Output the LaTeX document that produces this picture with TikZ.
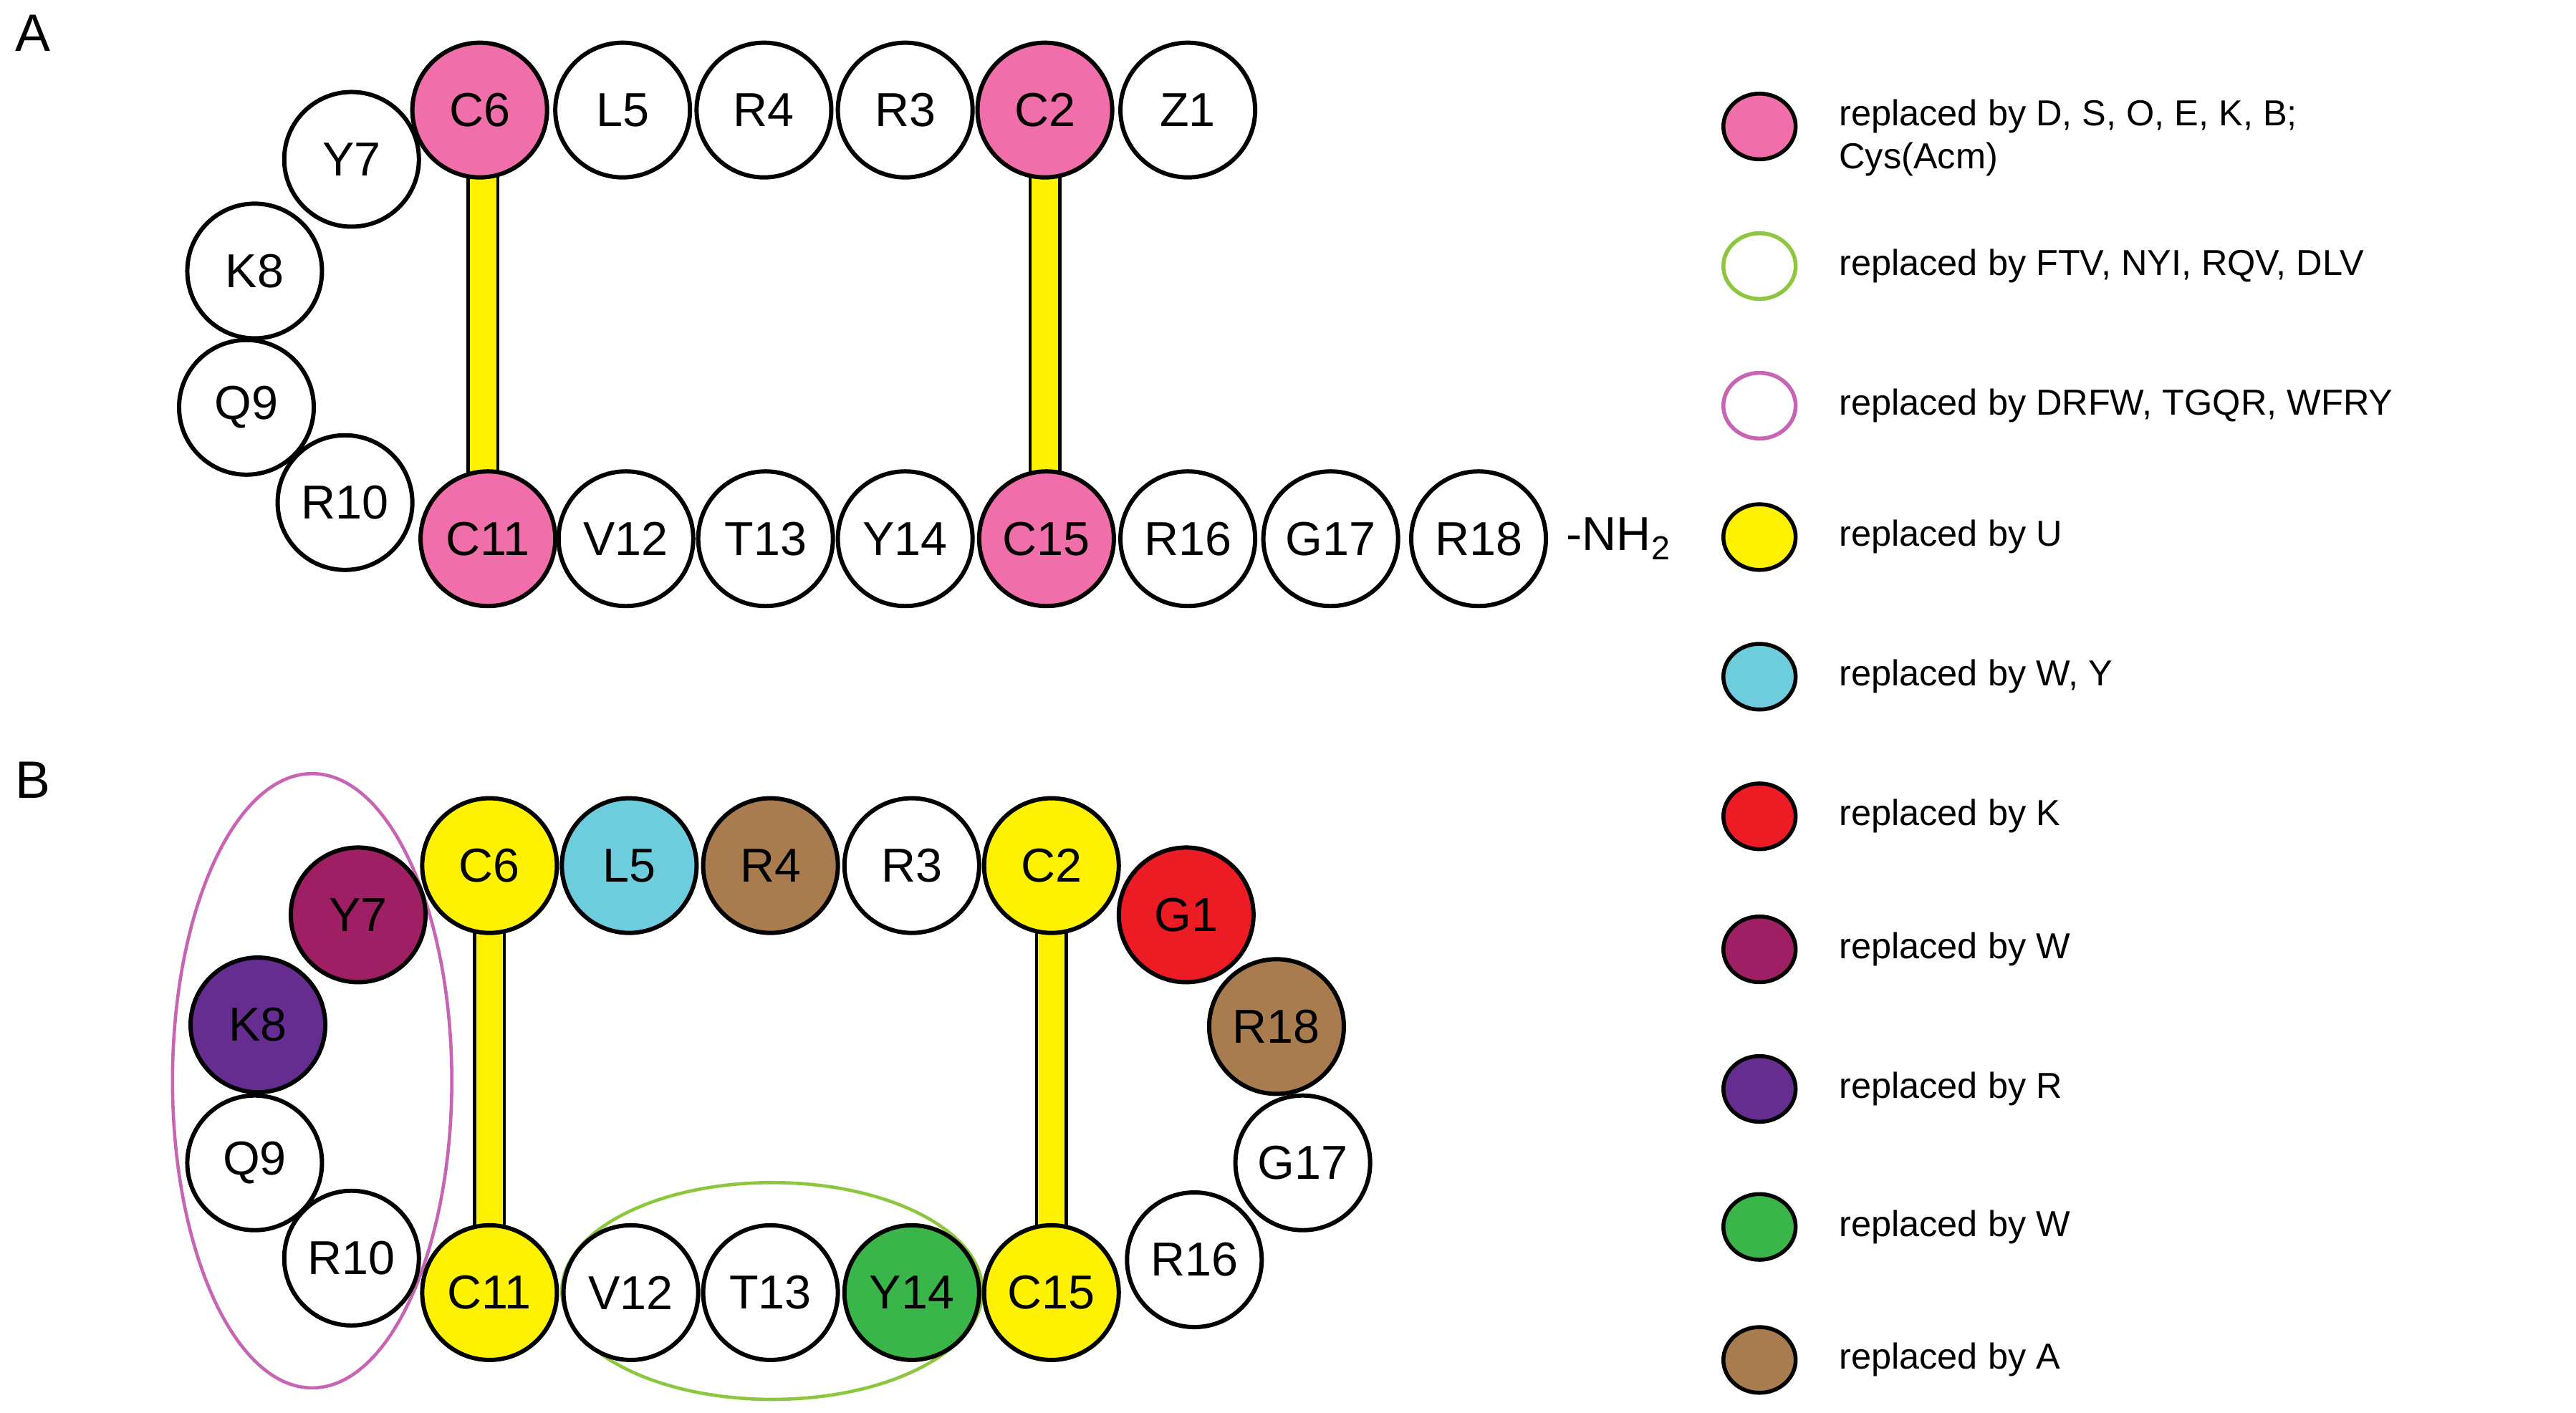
\documentclass[tikz,border=0pt]{standalone}
\usepackage{fontspec}
\setmainfont{Liberation Sans}
\usetikzlibrary{shapes.geometric}
\begin{document}
\begin{tikzpicture}[x=1pt,y=-1pt,
 res/.style={circle,draw=black,line width=2.6pt,minimum size=82pt,inner sep=0pt,font=\fontsize{29}{30}\selectfont,fill=white},
 bar/.style={draw=black,line width=2pt,fill=ybar},
 leg/.style={ellipse,draw=black,line width=2.4pt,minimum width=44pt,minimum height=40pt,inner sep=0pt},
 lt/.style={anchor=west,font=\fontsize{22}{26}\selectfont,align=left},
 panel/.style={font=\fontsize{32}{34}\selectfont}]
\definecolor{pk}{HTML}{F06EA9}\definecolor{ybar}{HTML}{FFF200}
\definecolor{cy}{HTML}{6DCDDD}\definecolor{rd}{HTML}{ED1C24}
\definecolor{mr}{HTML}{9E1F63}\definecolor{pu}{HTML}{662D91}
\definecolor{gn}{HTML}{39B54A}\definecolor{br}{HTML}{A97C50}
\definecolor{lg}{HTML}{8DC63F}\definecolor{lm}{HTML}{C864B4}
\useasboundingbox (0,0) rectangle (1568,860);
\node[panel] (pA) at (20,20) {A};
\node[panel] (pB) at (20,475) {B};
% Panel A bars
\draw[bar] (285,67) rectangle (303,328);
\draw[bar] (627,67) rectangle (645,328);
\node[res,fill=pk] (a6) at (292,67) {C6};
\node[res] (a5) at (379,67) {L5};
\node[res] (a4) at (465,67) {R4};
\node[res] (a3) at (551,67) {R3};
\node[res,fill=pk] (a2) at (636,67) {C2};
\node[res] (a1) at (723,67) {Z1};
\node[res] (a7) at (214,97) {Y7};
\node[res] (a8) at (155,165) {K8};
\node[res] (a9) at (150,248) {Q9};
\node[res] (a10) at (210,306) {R10};
\node[res,fill=pk] (a11) at (297,328) {C11};
\node[res] (a12) at (381,328) {V12};
\node[res] (a13) at (466,328) {T13};
\node[res] (a14) at (551,328) {Y14};
\node[res,fill=pk] (a15) at (637,328) {C15};
\node[res] (a16) at (723,328) {R16};
\node[res] (a17) at (810,328) {G17};
\node[res] (a18) at (900,328) {R18};
\node[anchor=west,font=\fontsize{29}{30}\selectfont] (nh) at (950,328) {-NH\textsubscript{2}};
% Panel B
\draw[lm,line width=2pt] (190,658) ellipse [x radius=85, y radius=187];
\draw[lg,line width=2pt] (470,786) ellipse [x radius=128, y radius=66];
\draw[bar] (289,527) rectangle (307,787);
\draw[bar] (631,527) rectangle (649,787);
\node[res,fill=ybar] (b6) at (298,527) {C6};
\node[res,fill=cy] (b5) at (383,527) {L5};
\node[res,fill=br] (b4) at (469,527) {R4};
\node[res] (b3) at (555,527) {R3};
\node[res,fill=ybar] (b2) at (640,527) {C2};
\node[res,fill=rd] (b1) at (722,557) {G1};
\node[res,fill=br] (b18) at (777,625) {R18};
\node[res] (b17) at (793,708) {G17};
\node[res] (b16) at (727,767) {R16};
\node[res,fill=mr] (b7) at (218,557) {Y7};
\node[res,fill=pu] (b8) at (157,624) {K8};
\node[res] (b9) at (155,708) {Q9};
\node[res] (b10) at (214,766) {R10};
\node[res,fill=ybar] (b11) at (298,787) {C11};
\node[res] (b12) at (384,787) {V12};
\node[res] (b13) at (469,787) {T13};
\node[res,fill=gn] (b14) at (555,787) {Y14};
\node[res,fill=ybar] (b15) at (640,787) {C15};
% Legend
\node[leg,fill=pk] (l1) at (1071,77) {};
\node[lt] (t1) at (1116,84) {replaced by D, S, O, E, K, B;\\Cys(Acm)};
\node[leg,draw=lg] (l2) at (1071,162) {};
\node[lt] (t2) at (1116,162) {replaced by FTV, NYI, RQV, DLV};
\node[leg,draw=lm] (l3) at (1071,247) {};
\node[lt] (t3) at (1116,247) {replaced by DRFW, TGQR, WFRY};
\node[leg,fill=ybar] (l4) at (1071,327) {};
\node[lt] (t4) at (1116,327) {replaced by U};
\node[leg,fill=cy] (l5) at (1071,412) {};
\node[lt] (t5) at (1116,412) {replaced by W, Y};
\node[leg,fill=rd] (l6) at (1071,497) {};
\node[lt] (t6) at (1116,497) {replaced by K};
\node[leg,fill=mr] (l7) at (1071,578) {};
\node[lt] (t7) at (1116,578) {replaced by W};
\node[leg,fill=pu] (l8) at (1071,663) {};
\node[lt] (t8) at (1116,663) {replaced by R};
\node[leg,fill=gn] (l9) at (1071,747) {};
\node[lt] (t9) at (1116,747) {replaced by W};
\node[leg,fill=br] (l10) at (1071,828) {};
\node[lt] (t10) at (1116,828) {replaced by A};
\end{tikzpicture}
\end{document}
